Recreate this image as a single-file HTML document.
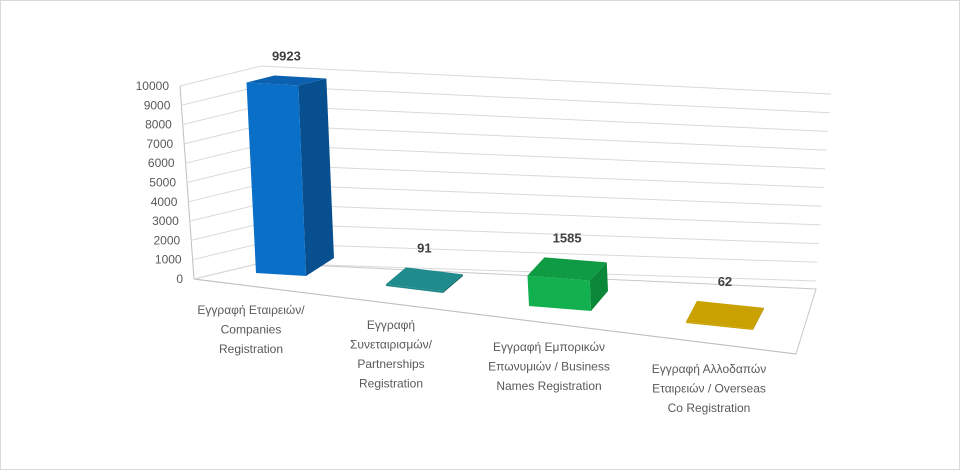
<!DOCTYPE html>
<html><head><meta charset="utf-8"><style>
html,body{margin:0;padding:0;background:#fff}
#wrap{width:958px;height:468px;border:1px solid #d9d9d9;position:relative}
svg text{font-family:"Liberation Sans","DejaVu Sans",sans-serif}
</style></head><body>
<div id="wrap">
<svg id="chart" width="958" height="468"></svg>
</div>
<script>
const categories=[["Εγγραφή Εταιρειών/","Companies","Registration"],["Εγγραφή","Συνεταιρισμών/","Partnerships","Registration"],["Εγγραφή Εμπορικών","Επωνυμιών / Business","Names Registration"],["Εγγραφή Αλλοδαπών","Εταιρειών / Overseas","Co Registration"]];
const values=[9923,91,1585,62];
const ticks=[0,1000,2000,3000,4000,5000,6000,7000,8000,9000,10000];
const NS="http://www.w3.org/2000/svg";
const svg=document.getElementById("chart");
function mk(t,a){const e=document.createElementNS(NS,t);for(const k in a)e.setAttribute(k,a[k]);svg.appendChild(e);return e;}
const maxV=10000;
function f(v){return v/maxV;}
function lerp(a,b,t){return a+(b-a)*t;}
const sideFront=[[193,278],[179,85]],corner=[[260,262],[260,65]],rightEnd=[[815,280],[830,93]];
function pt(p,t){return [lerp(p[0][0],p[1][0],t),lerp(p[0][1],p[1][1],t)];}
let fl=mk("polygon",{points:"193,278 260,262 815,288 795,353",fill:"#fff",stroke:"#c8c8c8","stroke-width":1});


let ax=mk("polyline",{points:"179,85 193,278 795,353",fill:"none",stroke:"#bfbfbf","stroke-width":1});


ticks.forEach(v=>{
  const t=f(v),a=pt(sideFront,t),b=pt(corner,t),c=pt(rightEnd,t);
  const g=mk("polyline",{points:`${a[0]},${a[1]} ${b[0]},${b[1]} ${c[0]},${c[1]}`,fill:"none",stroke:"#d9d9d9","stroke-width":1});
  
  
  const lb=mk("text",{x:a[0]-11,y:a[1]+4,"text-anchor":"end","font-size":12,fill:"#595959"});
  lb.textContent=v;
  
  
});
const bases=[{fl:[255,272],fr:[305,275],d:[28,-18]},{fl:[385,285],fr:[442,292],d:[20,-17]},{fl:[528,305],fr:[590,310],d:[17,-20]},{fl:[685,322],fr:[752,329],d:[11,-21]}];
const colors=[["#0a6fc7","#074f8f","#0b61b0"],["#1c8688","#14696b","#1f8b8d"],["#13b04f","#0b873a","#0e9b44"],["#c9a100","#a68400","#c9a100"]];
const hScale=192/10000;
const labelPos=[[250,313],[390,328],[548,350],[708,372]];
values.forEach((v,i)=>{
  const b=bases[i],h=v*hScale,c=colors[i],[dx,dy]=b.d;
  const k=h/190;
  const tdx=dx,tdy=dy+11*k;
  const FL=b.fl,FR=b.fr;
  const TL=[FL[0]-h*0.05,FL[1]-h],TR=[FR[0]-h*0.04,FR[1]-h];
  const P=p=>`${p[0]},${p[1]}`,B=p=>[p[0]+dx,p[1]+dy],BT=p=>[p[0]+tdx,p[1]+tdy];
  let s=mk("polygon",{points:[FR,B(FR),BT(TR),TR].map(P).join(" "),fill:c[1]});
  
  
  let fr=mk("polygon",{points:[FL,FR,TR,TL].map(P).join(" "),fill:c[0]});
  
  
  let tp=mk("polygon",{points:[TL,TR,BT(TR),BT(TL)].map(P).join(" "),fill:c[2]});
  
  
  const vl=mk("text",{x:(TL[0]+BT(TR)[0])/2,y:Math.min(TL[1],BT(TL)[1])-15,"text-anchor":"middle","font-size":13,"font-weight":"bold",fill:"#404040"});
  vl.textContent=v;
  
  
  const cl=mk("text",{x:labelPos[i][0],y:labelPos[i][1],"text-anchor":"middle","font-size":12,fill:"#595959"});
  
  
  categories[i].forEach((ln,j)=>{const ts=document.createElementNS(NS,"tspan");ts.setAttribute("x",labelPos[i][0]);ts.setAttribute("dy",j?19.5:0);ts.textContent=ln;cl.appendChild(ts);});
});
</script>
</body></html>
